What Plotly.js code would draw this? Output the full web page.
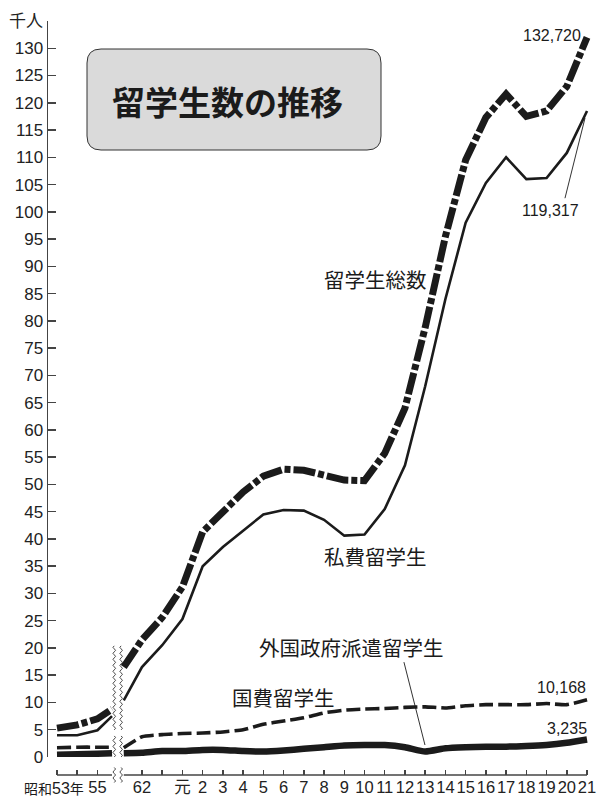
<!DOCTYPE html>
<html><head><meta charset="utf-8">
<script src="https://cdn.plot.ly/plotly-3.0.1.min.js"></script>
<style>html,body{margin:0;padding:0;background:#fff}#chart{width:597px;height:800px}</style>
</head><body><div id="chart"></div><script>
// ---- x-axis categories ----
const leftYears = ['昭和53年', '54', '55'];
const rightYears = ['62', '63', '元', '2', '3', '4', '5', '6', '7', '8', '9', '10',
  '11', '12', '13', '14', '15', '16', '17', '18', '19', '20', '21'];
const labelledTicks = ['55', '62', '元', '2', '3', '4', '5', '6', '7', '8', '9', '10',
  '11', '12', '13', '14', '15', '16', '17', '18', '19', '20', '21'];

// ---- series values (thousand persons) ----
// left part (昭和53〜55)
const totalLeft = [5.3, 5.9, 7.0];
const privateLeft = [4.0, 4.0, 4.9];
const govLeft = [1.7, 1.8, 1.8];
const foreignLeft = [0.4, 0.5, 0.6];
// values where the lines meet the axis break (left side / right side)
const totalBreak = [8.8, 16.5];
const privateBreak = [7.5, 10.4];
const govBreak = [1.8, 1.7];
const foreignBreak = [0.7, 0.7];
// right part (昭和62〜平成21)
const totalRight = [21.5, 25.6, 31.2, 41.3, 45.1, 48.6, 51.5, 52.8, 52.6, 51.6, 50.8, 50.7,
  55.7, 64.0, 78.8, 95.5, 109.5, 117.3, 121.6, 117.5, 118.5, 123.0, 132.0];
const privateRight = [16.5, 20.5, 25.3, 35.0, 38.5, 41.5, 44.5, 45.3, 45.2, 43.5, 40.6, 40.8,
  45.5, 53.5, 68.0, 84.0, 98.0, 105.3, 110.0, 106.0, 106.2, 110.8, 118.5];
const govRight = [3.7, 4.1, 4.3, 4.4, 4.6, 5.0, 6.0, 6.6, 7.2, 8.1, 8.6, 8.8,
  8.9, 9.1, 9.2, 9.0, 9.4, 9.6, 9.6, 9.6, 9.8, 9.6, 10.5];
const foreignRight = [0.8, 1.1, 1.1, 1.3, 1.3, 1.1, 1.0, 1.2, 1.5, 1.8, 2.1, 2.2,
  2.2, 1.8, 1.0, 1.6, 1.8, 1.9, 1.9, 2.0, 2.2, 2.6, 3.2];

// ---- value labels ----
const endLabels = {total: '132,720', priv: '119,317', gov: '10,168', foreign: '3,235'};
const yTicks = [0, 5, 10, 15, 20, 25, 30, 35, 40, 45, 50, 55, 60, 65, 70, 75, 80, 85, 90,
  95, 100, 105, 110, 115, 120, 125, 130];

// ---- axis geometry (break) ----
const R0 = 4.2;            // axis position of first right-side year
const BREAK_L = 2.72, BREAK_R = 3.3, WAVE1 = 2.83, WAVE2 = 3.17;
const leftPos = leftYears.map((_, i) => i);
const rightPos = rightYears.map((_, i) => R0 + i);

function build(left, brk, right) {
  return {
    x: [...leftPos, BREAK_L, null, BREAK_R, ...rightPos],
    y: [...left, brk[0], null, brk[1], ...right]
  };
}
const INK = '#1b1b1b';
const traces = [
  Object.assign(build(totalLeft, totalBreak, totalRight), {name: '留学生総数', type: 'scatter', mode: 'lines',
    line: {color: INK, width: 7, dash: '22px,3px,6px,3px'}}),
  Object.assign(build(privateLeft, privateBreak, privateRight), {name: '私費留学生', type: 'scatter', mode: 'lines',
    line: {color: INK, width: 2.6}}),
  Object.assign(build(govLeft, govBreak, govRight), {name: '国費留学生', type: 'scatter', mode: 'lines',
    line: {color: INK, width: 3.6, dash: '14px,5px', shape: 'spline', smoothing: 0.5}}),
  Object.assign(build(foreignLeft, foreignBreak, foreignRight), {name: '外国政府派遣留学生', type: 'scatter', mode: 'lines',
    line: {color: INK, width: 6.5, shape: 'spline', smoothing: 0.5}})
];

function wave(h) {
  let d = `M0,${-h}`; let s = 1;
  for (let y = -h; y < h - 0.1; y += 3) { d += ` Q${2.6 * s},${y + 1.5} 0,${y + 3}`; s = -s; }
  return d;
}
function roundRect(w, h, r) {
  return `M${-w + r},${-h} L${w - r},${-h} Q${w},${-h} ${w},${-h + r} L${w},${h - r} Q${w},${h} ${w - r},${h}` +
    ` L${-w + r},${h} Q${-w},${h} ${-w},${h - r} L${-w},${-h + r} Q${-w},${-h} ${-w + r},${-h} Z`;
}
const shapes = [];
// title box
shapes.push({type: 'path', xref: 'x', yref: 'y', xsizemode: 'pixel', ysizemode: 'pixel', xanchor: 8.75, yanchor: 120.6,
  path: roundRect(147, 50.5, 14), fillcolor: '#dadada', line: {color: '#333', width: 1}, layer: 'below'});
// x axis line (broken)
shapes.push({type: 'line', xref: 'x', yref: 'paper', x0: leftPos[0], x1: BREAK_L, y0: 0, y1: 0, line: {color: '#444', width: 1.5}});
shapes.push({type: 'line', xref: 'x', yref: 'paper', x0: BREAK_R, x1: rightPos[rightPos.length - 1], y0: 0, y1: 0, line: {color: '#444', width: 1.5}});
// break wavy lines
[WAVE1, WAVE2].forEach(xa => {
  shapes.push({type: 'path', xref: 'x', yref: 'y', xsizemode: 'pixel', ysizemode: 'pixel', xanchor: xa, yanchor: 12.5,
    path: wave(41), line: {color: '#333', width: 0.9}});
  shapes.push({type: 'path', xref: 'x', yref: 'y', xsizemode: 'pixel', ysizemode: 'pixel', xanchor: xa, yanchor: 1.75,
    path: wave(9.5), line: {color: '#333', width: 0.9}});
  shapes.push({type: 'path', xref: 'x', yref: 'paper', xsizemode: 'pixel', ysizemode: 'pixel', xanchor: xa, yanchor: 0,
    path: wave(7.5), line: {color: '#333', width: 0.9}});
});
// leader lines
shapes.push({type: 'line', xref: 'x', yref: 'y', x0: 17.15, y0: 17.4, x1: 18.19, y1: 2.2, line: {color: INK, width: 0.9}});
shapes.push({type: 'line', xref: 'x', yref: 'y', x0: 25.11, y0: 102.5, x1: 26.1, y1: 117.2, line: {color: INK, width: 0.9}});

const JP = "'Noto Sans CJK JP', 'Noto Sans', sans-serif";
const NUM = "'Liberation Sans', Arial, 'Noto Sans CJK JP', sans-serif";
const ann = (text, x, y, size, fam, extra) => Object.assign({text, x, y, xref: 'x', yref: 'y', showarrow: false,
  xanchor: 'center', yanchor: 'middle', font: {family: fam, size, color: '#1b1b1b'}}, extra || {});
const firstYearLabel = leftYears[0].replace(/([^0-9]+)/g, '<span style="font-size:14px">$1</span>');
const annotations = [
  ann('<b>留学生数の推移</b>', 8.45, 120.4, 33, JP),
  ann('留学生総数', 15.72, 87.7, 20.5, JP),
  ann('私費留学生', 15.72, 36.9, 20.5, JP),
  ann('外国政府派遣留学生', 14.58, 20.2, 20.5, JP),
  ann('国費留学生', 11.22, 11.0, 20.5, JP),
  ann(endLabels.gov, 24.96, 12.66, 16, NUM),
  ann(endLabels.foreign, 25.21, 5.32, 16, NUM),
  ann(endLabels.total, 24.47, 132.4, 16, NUM),
  ann(endLabels.priv, 24.37, 100.3, 16, NUM),
  ann(firstYearLabel, 6 / 549, 0, 16, NUM, {xref: 'paper', yref: 'paper', yanchor: 'top', yshift: -3})
];

const layout = {
  width: 597, height: 800,
  margin: {l: 48, r: 0, t: 21, b: 25, pad: 0},
  paper_bgcolor: '#fff', plot_bgcolor: '#fff',
  showlegend: false,
  xaxis: {range: [-0.4449, 26.693], anchor: 'free', position: 0, showline: false, showgrid: false, zeroline: false,
    ticks: 'inside', ticklen: 5, tickwidth: 1.5, tickcolor: '#444', tickangle: 0, automargin: false,
    ticklabeloverflow: 'allow',
    tickvals: [...leftPos, ...rightPos],
    ticktext: [...leftYears, ...rightYears].map(l => labelledTicks.includes(l) ? l : ''),
    tickfont: {family: NUM, size: 16.5, color: '#222'}, fixedrange: true},
  yaxis: {domain: [18 / 754, 1], range: [0, 135], showline: true, linecolor: '#444', linewidth: 1.5,
    showgrid: false, zeroline: false, ticks: 'inside', ticklen: 8, tickwidth: 1.5, tickcolor: '#444', automargin: false,
    tickvals: [...yTicks, 135], ticktext: [...yTicks.map(String), '千人'],
    tickfont: {family: NUM, size: 17, color: '#222'}, fixedrange: true},
  shapes, annotations
};
Plotly.newPlot('chart', traces, layout, {displayModeBar: false, staticPlot: true});
</script></body></html>
